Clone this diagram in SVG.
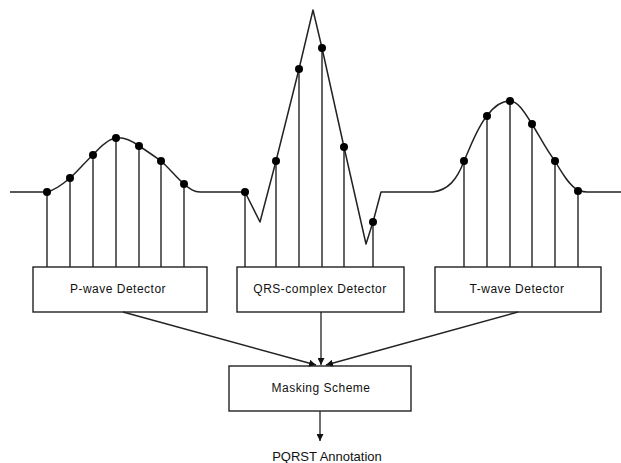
<svg xmlns="http://www.w3.org/2000/svg" width="621" height="463" viewBox="0 0 621 463">
<style>
.box{fill:#fff;stroke:#222;stroke-width:1.4}
.lbl{font-family:"Liberation Sans",Arial,sans-serif;font-size:12px;letter-spacing:0.5px;fill:#111;text-anchor:middle}
.wave{fill:none;stroke:#222;stroke-width:1.5;stroke-linejoin:round}
.stem{stroke:#111;stroke-width:1.3}
.dot{fill:#000}
.conn{stroke:#222;stroke-width:1.3;fill:none;marker-end:url(#ah)}
</style>
<defs>
<marker id="ah" viewBox="0 0 10 10" refX="10" refY="5" markerWidth="7" markerHeight="7" markerUnits="userSpaceOnUse" orient="auto">
<path d="M0,0 L10,5 L0,10 z" fill="#111"/>
</marker>
</defs>
<rect width="621" height="463" fill="#fff"/>
<g id="signal">
<path class="wave" d="M10,192 L47,192 C55,190 63,184 70,178 C78,171 85,162 93,155 C100,147 108,139 116,138 C124,137 132,141 139,146 C147,151 154,156 161,161 C169,168 176,177 184,184 C190,189 194,192 200,192 L245,192 L260,222 L276,161 L299,69 L313,10 L322,48 L344,147 L366,244 L373,222 L381,192 L433,192 C448,190 457,180 464,161 C472,143 478,126 487,116 C494,106 502,101 510,101 C518,101 525,113 532,124 C540,137 547,151 555,161 C563,175 570,186 578,190 C581,191 583,192 587,192 L621,192"/>
<g class="stem">
<line x1="47" y1="192" x2="47" y2="267"/>
<line x1="70" y1="178" x2="70" y2="267"/>
<line x1="93" y1="155" x2="93" y2="267"/>
<line x1="116" y1="138" x2="116" y2="267"/>
<line x1="139" y1="146" x2="139" y2="267"/>
<line x1="161" y1="161" x2="161" y2="267"/>
<line x1="184" y1="184" x2="184" y2="267"/>
<line x1="245" y1="192" x2="245" y2="267"/>
<line x1="276" y1="161" x2="276" y2="267"/>
<line x1="299" y1="69" x2="299" y2="267"/>
<line x1="322" y1="48" x2="322" y2="267"/>
<line x1="344" y1="147" x2="344" y2="267"/>
<line x1="373" y1="222" x2="373" y2="267"/>
<line x1="464" y1="161" x2="464" y2="267"/>
<line x1="487" y1="116" x2="487" y2="267"/>
<line x1="510" y1="101" x2="510" y2="267"/>
<line x1="532" y1="124" x2="532" y2="267"/>
<line x1="555" y1="161" x2="555" y2="267"/>
<line x1="578" y1="191" x2="578" y2="267"/>
</g>
<g class="dot">
<circle cx="47" cy="192" r="4"/>
<circle cx="70" cy="178" r="4"/>
<circle cx="93" cy="155" r="4"/>
<circle cx="116" cy="138" r="4"/>
<circle cx="139" cy="146" r="4"/>
<circle cx="161" cy="161" r="4"/>
<circle cx="184" cy="184" r="4"/>
<circle cx="245" cy="192" r="4"/>
<circle cx="276" cy="161" r="4"/>
<circle cx="299" cy="69" r="4"/>
<circle cx="322" cy="48" r="4"/>
<circle cx="344" cy="147" r="4"/>
<circle cx="373" cy="222" r="4"/>
<circle cx="464" cy="161" r="4"/>
<circle cx="487" cy="116" r="4"/>
<circle cx="510" cy="101" r="4"/>
<circle cx="532" cy="124" r="4"/>
<circle cx="555" cy="161" r="4"/>
<circle cx="578" cy="191" r="4"/>
</g>
</g>
<g id="p-wave-detector">
<rect class="box" x="33" y="267" width="174" height="45"/>
<text class="lbl" x="118" y="293">P-wave Detector</text>
</g>
<g id="qrs-complex-detector">
<rect class="box" x="237" y="267" width="167" height="45"/>
<text class="lbl" x="320" y="293">QRS-complex Detector</text>
</g>
<g id="t-wave-detector">
<rect class="box" x="435" y="267" width="166" height="45"/>
<text class="lbl" x="517" y="293">T-wave Detector</text>
</g>
<g id="masking-scheme">
<rect class="box" x="229" y="366" width="182" height="45"/>
<text class="lbl" x="321" y="392">Masking Scheme</text>
</g>
<g id="pqrst-annotation">
<text class="lbl" x="327" y="461" style="font-size:13px;letter-spacing:0">PQRST Annotation</text>
</g>
<g id="connectors">
<line class="conn" x1="123" y1="312" x2="316" y2="365"/>
<line class="conn" x1="321" y1="312" x2="321" y2="365"/>
<line class="conn" x1="518" y1="312" x2="326" y2="365"/>
<line class="conn" x1="320" y1="411" x2="320" y2="441"/>
</g>
</svg>
